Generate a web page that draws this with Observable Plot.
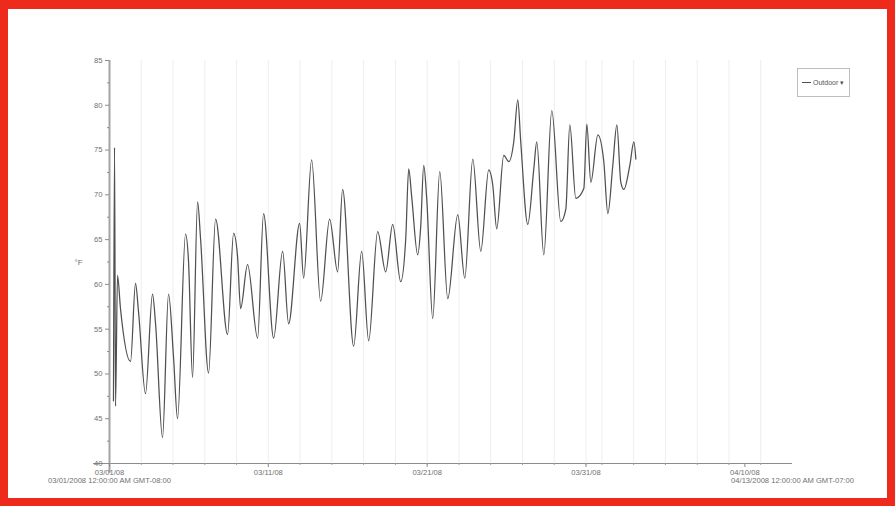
<!DOCTYPE html>
<html>
<head>
<meta charset="utf-8">
<script src="https://cdn.jsdelivr.net/npm/d3@7"></script>
<script src="https://cdn.jsdelivr.net/npm/@observablehq/plot@0.6"></script>
<style>
  html, body { margin: 0; padding: 0; background: #fff; }
  #wrap { position: relative; width: 895px; height: 506px; overflow: hidden; }
  #frame { position: absolute; inset: 0; border: 8px solid #ee2a1c; border-top-width: 9px; box-sizing: border-box; pointer-events: none; }
  #legend {
    position: absolute; left: 797px; top: 68px; width: 53px; height: 29px;
    border: 1px solid #bdbdbd; box-sizing: border-box; background: #fff;
    font: 7px "Liberation Sans", Arial, sans-serif; color: #555;
    display: flex; align-items: center; padding-left: 4px; gap: 2px;
  }
  #legend .swatch { display: inline-block; width: 9px; border-top: 1.5px solid #4d4d4d; }
</style>
</head>
<body>
<div id="wrap">
  <div id="chart"></div>
  <div id="legend"><span class="swatch"></span><span>Outdoor</span><span>&#9662;</span></div>
  <div id="frame"></div>
</div>
<script>
// Hourly outdoor temperature, sampled at the turning points of the trace.
const seriesStart = "2008-03-01T00:00:00Z";
const seriesEnd = "2008-04-13T00:00:00Z";
const hoursFromStart = [
  6.0, 7.6, 9.1, 12.1, 16.6, 31.8, 39.3, 43.8, 54.4, 65.0,
  69.6, 80.1, 89.2, 96.8, 102.8, 114.9, 119.4, 125.5, 133.1, 137.6,
  149.7, 160.3, 178.4, 187.5, 193.5, 198.1, 208.6, 223.8, 232.8, 248.0,
  261.6, 270.6, 287.3, 293.3, 305.4, 319.0, 332.6, 344.7, 352.2, 368.9,
  381.0, 391.6, 405.2, 417.3, 427.9, 440.0, 447.6, 452.1, 456.6, 465.7,
  470.2, 474.8, 479.3, 488.4, 499.0, 511.1, 526.2, 536.8, 548.9, 561.0,
  573.0, 579.1, 585.1, 595.7, 603.3, 610.8, 616.9, 621.4, 632.0, 641.1,
  645.6, 656.2, 668.3, 681.9, 689.5, 695.5, 704.6, 716.7, 721.2, 727.3,
  737.9, 746.9, 753.0, 760.5, 766.6, 772.6, 777.2, 786.2, 792.3, 795.3
];
const readings = [
  47.0, 75.3, 46.4, 61.0, 57.3, 51.4, 60.1, 57.0, 47.8, 58.9,
  55.6, 42.9, 58.9, 51.8, 45.0, 65.6, 62.6, 49.6, 69.2, 65.1,
  50.1, 67.3, 54.4, 65.7, 63.1, 57.3, 62.2, 54.0, 67.9, 54.0,
  63.7, 55.6, 66.8, 60.7, 73.9, 58.1, 67.3, 61.4, 70.6, 53.1,
  63.7, 53.7, 65.9, 61.4, 66.7, 60.3, 65.1, 72.9, 69.8, 63.3,
  66.4, 73.3, 69.6, 56.2, 72.6, 58.4, 67.8, 60.7, 74.0, 63.7,
  72.8, 71.1, 66.2, 74.4, 73.7, 75.9, 80.6, 75.9, 66.7, 72.9,
  75.9, 63.3, 79.4, 67.0, 68.4, 77.8, 69.6, 70.7, 77.9, 71.4,
  76.7, 73.7, 67.9, 73.3, 77.8, 71.4, 70.6, 73.3, 75.9, 74.0
];
const yTicks = [40, 45, 50, 55, 60, 65, 70, 75, 80, 85];
const yMinorTicks = [42.5, 47.5, 52.5, 57.5, 62.5, 67.5, 72.5, 77.5, 82.5];
const xTickDays = ["2008-03-01", "2008-03-11", "2008-03-21", "2008-03-31", "2008-04-10"];
const xTickLabels = ["03/01/08", "03/11/08", "03/21/08", "03/31/08", "04/10/08"];
const rangeLabels = ["03/01/2008 12:00:00 AM GMT-08:00", "04/13/2008 12:00:00 AM GMT-07:00"];
const yLabel = "°F";

const t0 = new Date(seriesStart);
const t1 = new Date(seriesEnd);
const hour = 3600 * 1000;
const data = hoursFromStart.map((h, i) => ({ t: new Date(+t0 + h * hour), v: readings[i] }));
const tickDates = xTickDays.map(d => new Date(d + "T00:00:00Z"));
const tickLabel = new Map(tickDates.map((d, i) => [+d, xTickLabels[i]]));
const gridDays = d3.utcDay.every(2).range(new Date(+t0 + hour), t1);

const chart = Plot.plot({
  width: 895,
  height: 506,
  marginLeft: 109,
  marginRight: 103,
  marginTop: 60,
  marginBottom: 43,
  style: { background: "#fff", color: "#6f6f6f", fontFamily: "Liberation Sans, Arial, sans-serif", fontSize: "7.6px" },
  x: { type: "utc", domain: [t0, t1], label: null },
  y: { domain: [40, 85], label: null },
  marks: [
    Plot.ruleX(gridDays, { stroke: "#eeeeee", strokeWidth: 1 }),
    Plot.ruleY([40], { x1: new Date(+t0 - 24 * hour), x2: t1, stroke: "#8c8c8c", strokeWidth: 1 }),
    Plot.ruleX([t0], { y1: 38.9, y2: 85, stroke: "#a3a3a3", strokeWidth: 2 }),
    Plot.axisY({ ticks: yTicks, tickSize: 4, tickPadding: 3, tickFormat: d => String(d), stroke: "#8c8c8c" }),
    Plot.axisY(yMinorTicks, { tickSize: 2, tickFormat: () => "", stroke: "#8c8c8c" }),
    Plot.axisX({ ticks: tickDates, tickSize: 4, tickPadding: 2, tickFormat: d => tickLabel.get(+d), stroke: "#8c8c8c" }),
    Plot.axisX(gridDays, { tickSize: 2, tickFormat: () => "", stroke: "#a0a0a0" }),
    Plot.text([t0, t1], { x: d => d, frameAnchor: "bottom", dy: 19, text: (d, i) => rangeLabels[i] }),
    Plot.text([yLabel], { frameAnchor: "left", dx: -35, text: d => d, fontSize: 8 }),
    Plot.line(data, { x: "t", y: "v", curve: "monotone-x", stroke: "#505050", strokeWidth: 1.25 })
  ]
});
document.getElementById("chart").append(chart);
</script>
</body>
</html>
